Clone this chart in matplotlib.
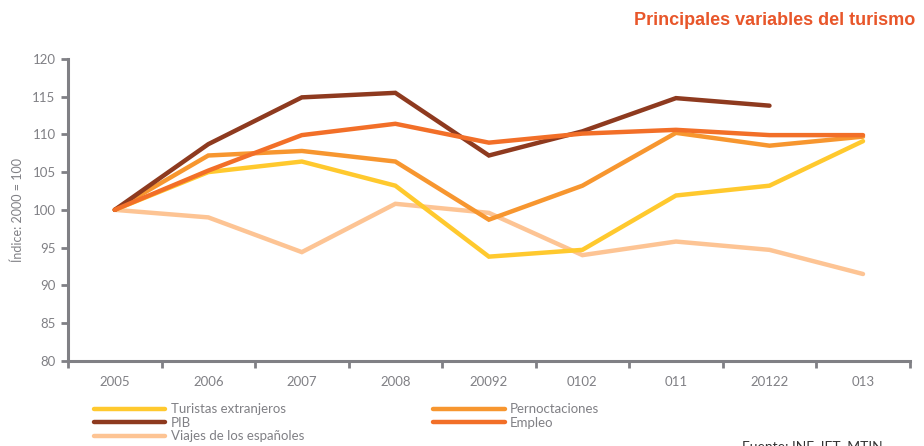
import numpy as np
import matplotlib.pyplot as plt
from matplotlib.lines import Line2D

years = ['2005', '2006', '2007', '2008', '20092', '0102', '011', '20122', '013']
turistas = [100, 105.0, 106.4, 103.2, 93.8, 94.7, 101.9, 103.2, 109.1]
pernoct = [100, 107.2, 107.8, 106.4, 98.7, 103.2, 110.2, 108.5, 109.7]
pib = [100, 108.7, 114.9, 115.5, 107.2, 110.4, 114.8, 113.8, np.nan]
empleo = [100, 105.2, 109.9, 111.4, 108.9, 110.1, 110.6, 109.9, 109.9]
viajes = [100, 99.0, 94.4, 100.8, 99.6, 94.0, 95.8, 94.7, 91.5]

c_tur = '#FFC92E'
c_per = '#F7962F'
c_pib = '#8E3A1F'
c_emp = '#F26F28'
c_via = '#FDC494'
gris = '#808085'

plt.rcParams['font.family'] = ['Lato', 'DejaVu Sans']

fig = plt.figure(figsize=(9.24, 4.46), dpi=100)
ax = fig.add_axes([0.0736, 0.191, 0.911, 0.677])
x = np.arange(len(years))
lw = 3.2
ax.plot(x, viajes, color=c_via, lw=lw, solid_capstyle='round', solid_joinstyle='miter')
ax.plot(x, turistas, color=c_tur, lw=lw, solid_capstyle='round', solid_joinstyle='miter')
ax.plot(x, pernoct, color=c_per, lw=lw, solid_capstyle='round', solid_joinstyle='miter')
ax.plot(x, pib, color=c_pib, lw=lw, solid_capstyle='round', solid_joinstyle='miter')
ax.plot(x, empleo, color=c_emp, lw=lw, solid_capstyle='round', solid_joinstyle='miter')

ax.set_xlim(-0.5, len(years) - 0.5)
ax.set_ylim(80, 120)
ax.set_yticks(range(80, 121, 5))
ax.set_xticks(np.arange(-0.5, len(years)), [])
ax.set_xticks(x, years, minor=True)
ax.tick_params(axis='x', which='minor', length=0, pad=11, labelsize=9.5, labelcolor=gris)
ax.tick_params(axis='x', which='major', length=5, width=2, color=gris)
ax.tick_params(axis='y', length=5, width=2, color=gris, labelsize=9.5, labelcolor=gris, pad=4)
for s in ['top', 'right']:
    ax.spines[s].set_visible(False)
for s in ['left', 'bottom']:
    ax.spines[s].set_color(gris)
    ax.spines[s].set_linewidth(2.2)
ax.set_ylabel('Índice: 2000 = 100', color=gris, fontsize=9, labelpad=6)

fig.text(0.99, 0.955, 'Principales variables del turismo', ha='right', va='center',
         color='#E8562A', fontsize=13, fontweight='bold',
         family=['Liberation Sans Narrow', 'Liberation Sans'], stretch='condensed')

def h(c):
    return Line2D([], [], color=c, lw=3.2, solid_capstyle='round')

kw = dict(frameon=False, fontsize=9.5, labelcolor=gris, handlelength=5.4,
          handletextpad=0.4, labelspacing=0.12, borderaxespad=0, borderpad=0)
fig.legend([h(c_tur), h(c_pib), h(c_via)],
           ['Turistas extranjeros', 'PIB', 'Viajes de los españoles'],
           loc='upper left', bbox_to_anchor=(0.102, 0.096), **kw)
fig.legend([h(c_per), h(c_emp)], ['Pernoctaciones', 'Empleo'],
           loc='upper left', bbox_to_anchor=(0.469, 0.096), **kw)

fig.text(0.803, 0.012, 'Fuente: INE, IET, MTIN', ha='left', va='top',
         color='#333333', fontsize=10)

fig.savefig('out.png', dpi=100)
